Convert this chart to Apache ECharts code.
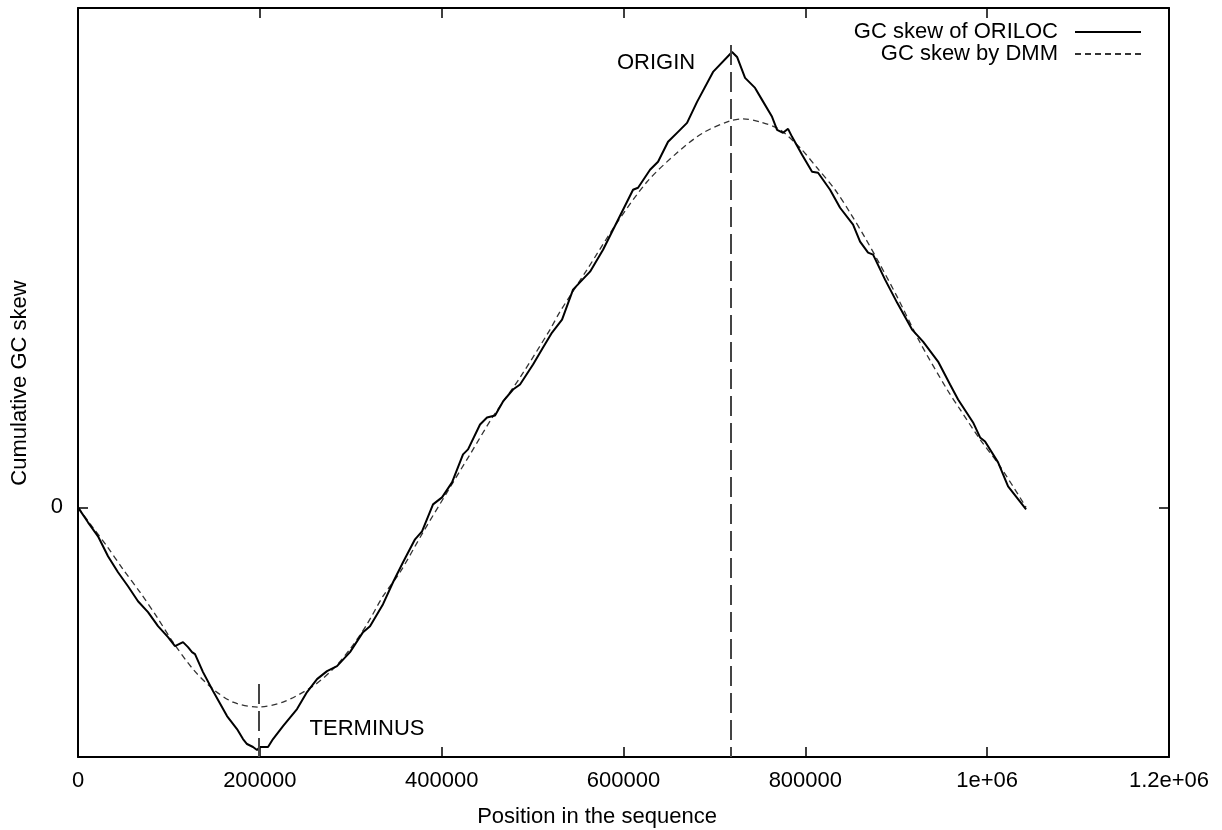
<!DOCTYPE html>
<html>
<head>
<meta charset="utf-8">
<script src="https://cdn.jsdelivr.net/npm/echarts@6/dist/echarts.min.js"></script>
<style>html,body{margin:0;padding:0;background:#fff}#c{width:1222px;height:830px}</style>
</head>
<body>
<div id="c"></div>
<script>
// ---- data ----
const seriesNames = ['GC skew of ORILOC', 'GC skew by DMM'];
const xTickLabels = {0:'0',200000:'200000',400000:'400000',600000:'600000',800000:'800000',1000000:'1e+06',1200000:'1.2e+06'};
const yTickLabels = {0:'0'};
const oriloc = [
[0,0],[11000,-15],[22000,-29],[33000,-49],[44000,-65],[55000,-79],[66000,-94],[77000,-105],[88000,-119],[99000,-130],
[106700,-139],[115500,-135],[121000,-140],[125400,-145],[128700,-147],[137500,-165],[148500,-184],[163900,-209],[174900,-222],
[181500,-232],[185900,-237],[192500,-240],[196900,-243],[200200,-240],[209000,-240],[214500,-232],[225500,-219],[240900,-202],
[251900,-185],[262900,-172],[273900,-164],[284900,-159],[299200,-145],[313500,-125],[321200,-119],[335500,-97],[346500,-75],
[357500,-55],[370700,-32],[378400,-24],[390500,3],[400400,10],[411400,25],[423500,53],[429000,58],[442200,83],[449900,90],
[458700,92],[467500,106],[478500,118],[486200,123],[500500,143],[511500,160],[521400,175],[532400,188],[544500,218],[563200,236],
[577500,258],[594000,288],[610500,318],[616000,320],[629200,338],[638000,346],[649000,366],[660000,376],[669900,385],[680900,406],
[698500,436],[719400,456],[724900,451],[733700,430],[744700,420],[752400,408],[763400,391],[768900,378],[775500,375],[781000,379],
[785400,371],[796400,353],[807400,336],[814000,335],[827200,318],[838200,300],[852500,283],[860200,266],[869000,255],[874500,253],
[887700,228],[900900,205],[917400,178],[929500,166],[946000,146],[959200,123],[968000,108],[984500,85],[992200,70],[997700,66],
[1012000,45],[1023000,21],[1042800,-2]
];
const dmm = [
[0,0],[15400,-19],[31900,-39],[49500,-62],[68200,-85],[86900,-110],[104500,-135],[126500,-162],[148500,-182],[170500,-195],
[198000,-200],[225500,-195],[258500,-179],[280500,-162],[299200,-142],[317900,-117],[335500,-89],[354200,-65],[379500,-25],
[405900,15],[431200,53],[456500,91],[486200,130],[519200,178],[530200,196],[559900,238],[592900,285],[625900,326],[658900,355],
[687500,375],[717200,387],[731500,389],[750200,386],[772200,378],[794200,360],[812900,340],[832700,318],[849200,295],[865700,270],
[882200,243],[900900,211],[926200,165],[955900,118],[970200,98],[992200,68],[1014200,41],[1042800,0]
];
const originPos = 718000, originTop = 463;
const terminusPos = 198500, terminusTop = -177;
const annotations = [
  {name:'ORIGIN', value:[635800, 445]},
  {name:'TERMINUS', value:[317900, -222]}
];
const yMin = -250, yMax = 500;

// ---- chart ----
const chart = echarts.init(document.getElementById('c'), null, {renderer:'canvas'});
const font = 'Liberation Sans, Arial, Helvetica, sans-serif';
const FS = 22;
const axisLine = {show:true, onZero:false, lineStyle:{color:'#000', width:2}};
const tick = {show:true, inside:true, length:10, lineStyle:{color:'#000', width:1.5}};
const option = {
  animation:false,
  backgroundColor:'#fff',
  grid:{left:78, right:53, top:8, bottom:73, containLabel:false},
  legend:{
    data:seriesNames, orient:'vertical', right:75, top:16, align:'right',
    itemWidth:66, itemHeight:12, itemGap:0,
    itemStyle:{opacity:0},
    textStyle:{fontFamily:font, fontSize:FS, color:'#000', padding:[0,12,0,0]}
  },
  xAxis:[
    {type:'value', min:0, max:1200000, interval:200000, position:'bottom',
     axisLine, splitLine:{show:false}, axisTick:tick,
     axisLabel:{margin:13, fontFamily:font, fontSize:FS, color:'#000', formatter:v=>xTickLabels[v]}},
    {type:'value', min:0, max:1200000, interval:200000, position:'top',
     axisLine, splitLine:{show:false}, axisTick:tick, axisLabel:{show:false}}
  ],
  yAxis:[
    {type:'value', min:yMin, max:yMax, position:'left', axisLine, splitLine:{show:false},
     axisTick:Object.assign({customValues:[0]}, tick),
     axisLabel:{margin:15, fontFamily:font, fontSize:FS, color:'#000', customValues:[0], formatter:v=>yTickLabels[v]}},
    {type:'value', min:yMin, max:yMax, position:'right', axisLine, splitLine:{show:false},
     axisTick:Object.assign({customValues:[0]}, tick), axisLabel:{show:false}}
  ],
  graphic:[
    {type:'text', x:597, y:817, style:{text:'Position in the sequence', align:'center', verticalAlign:'middle', font:FS+'px '+font, fill:'#000'}},
    {type:'text', rotation:Math.PI/2, x:20, y:383, style:{text:'Cumulative GC skew', align:'center', verticalAlign:'middle', font:FS+'px '+font, fill:'#000'}}
  ],
  series:[
    {name:seriesNames[0], type:'line', data:oriloc, showSymbol:false, symbol:'none',
     lineStyle:{color:'#000', width:2}, itemStyle:{color:'#000'}, z:3,
     markLine:{silent:true, symbol:'none', label:{show:false},
       lineStyle:{color:'#444', width:2, type:[20,7]},
       data:[
         [{coord:[originPos, originTop]},{coord:[originPos, yMin]}],
         [{coord:[terminusPos, terminusTop]},{coord:[terminusPos, yMin]}]
       ]}},
    {name:seriesNames[1], type:'line', data:dmm, showSymbol:false, symbol:'none', smooth:0.3,
     lineStyle:{color:'#333', width:1.3, type:[6,4]}, itemStyle:{color:'#333'}, z:2},
    {name:'labels', type:'scatter', data:annotations, symbolSize:0, silent:true, itemStyle:{opacity:1},
     label:{show:true, position:'inside', formatter:p=>p.name, fontFamily:font, fontSize:FS, color:'#000', opacity:1}}
  ]
};
chart.setOption(option);
</script>
</body>
</html>
